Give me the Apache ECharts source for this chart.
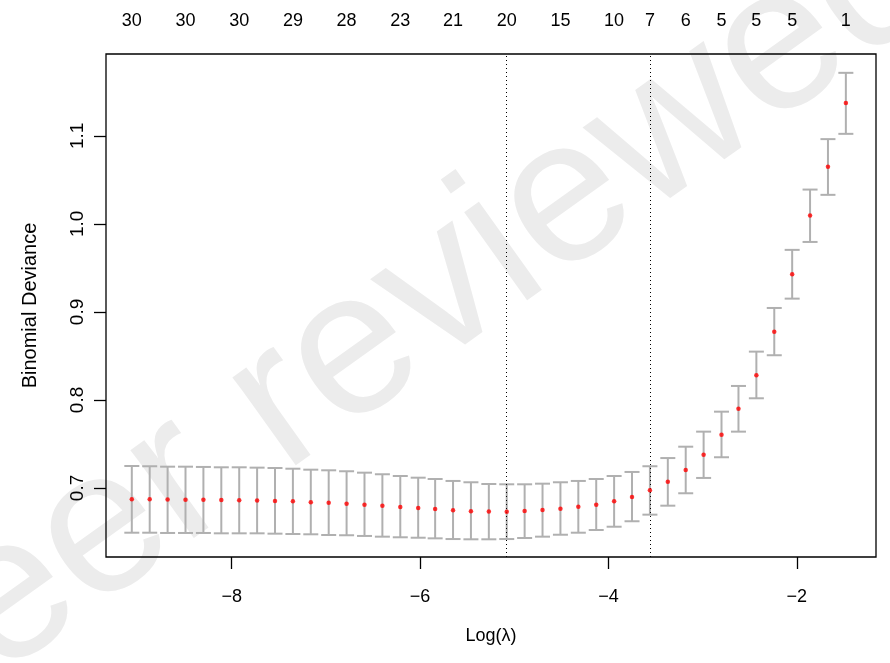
<!DOCTYPE html>
<html>
<head>
<meta charset="utf-8">
<script src="https://cdn.jsdelivr.net/npm/echarts@6/dist/echarts.min.js"></script>
<style>
  html, body { margin: 0; padding: 0; background: #fff; }
  #main { width: 890px; height: 663px; }
</style>
</head>
<body>
<div id="main"></div>
<script>
// log(lambda) of each fold-averaged point
var logLambda = [-9.06, -8.87, -8.68, -8.49, -8.30, -8.11, -7.92, -7.73, -7.54, -7.35,
  -7.16, -6.97, -6.78, -6.59, -6.40, -6.21, -6.02, -5.84, -5.65, -5.46,
  -5.27, -5.08, -4.89, -4.70, -4.51, -4.32, -4.13, -3.94, -3.75, -3.56,
  -3.37, -3.18, -2.99, -2.80, -2.62, -2.43, -2.24, -2.05, -1.86, -1.67, -1.48]
// mean binomial deviance (red dots)
var cvMean = [0.6873, 0.6872, 0.6869, 0.6867, 0.6865, 0.6863, 0.6860, 0.6857, 0.6853, 0.6849,
  0.6838, 0.6833, 0.6822, 0.6810, 0.6799, 0.6784, 0.6773, 0.6761, 0.6747, 0.6735,
  0.6733, 0.6730, 0.6739, 0.6750, 0.6765, 0.6788, 0.6810, 0.6849, 0.6898, 0.6974,
  0.7072, 0.7205, 0.7378, 0.7606, 0.7901, 0.8281, 0.8776, 0.9428, 1.0094, 1.0648, 1.1372]
// upper / lower error bar ends
var cvUpper = [0.7250, 0.7247, 0.7242, 0.7242, 0.7239, 0.7235, 0.7235, 0.7231, 0.7227, 0.7219,
  0.7208, 0.7201, 0.7190, 0.7174, 0.7156, 0.7136, 0.7117, 0.7102, 0.7080, 0.7065,
  0.7045, 0.7042, 0.7042, 0.7049, 0.7065, 0.7080, 0.7102, 0.7136, 0.7182, 0.7247,
  0.7340, 0.7469, 0.7640, 0.7867, 0.8159, 0.8549, 0.9045, 0.9705, 1.0390, 1.0963, 1.1716]
var cvLower = [0.6492, 0.6492, 0.6489, 0.6489, 0.6489, 0.6485, 0.6485, 0.6485, 0.6481, 0.6477,
  0.6474, 0.6466, 0.6463, 0.6455, 0.6447, 0.6440, 0.6435, 0.6428, 0.6420, 0.6417,
  0.6417, 0.6420, 0.6432, 0.6447, 0.6469, 0.6492, 0.6523, 0.6560, 0.6622, 0.6697,
  0.6799, 0.6940, 0.7114, 0.7349, 0.7640, 0.8019, 0.8508, 0.9151, 0.9795, 1.0330, 1.1023]
// number of nonzero coefficients shown on top, and which points they sit on
var topLabelIdx = [0, 3, 6, 9, 12, 15, 18, 21, 24, 27, 29, 31, 33, 35, 37, 40]
var topLabels = [30, 30, 30, 29, 28, 23, 21, 20, 15, 10, 7, 6, 5, 5, 5, 1]
var xTicks = [-8, -6, -4, -2]
var yTicks = [0.7, 0.8, 0.9, 1.0, 1.1]
var lambdaMinIdx = 21
var lambda1seIdx = 29

var font = 'Liberation Sans, Arial, Helvetica, sans-serif'
var chart = echarts.init(document.getElementById('main'))

var topValues = topLabelIdx.map(function (i) { return logLambda[i] })
var barData = logLambda.map(function (x, i) { return [x, cvLower[i], cvUpper[i]] })
var pointData = logLambda.map(function (x, i) { return [x, cvMean[i]] })

function minus(v) {
  return v < 0 ? '\u2212' + Math.abs(v) : String(v)
}

var option = {
  animation: false,
  backgroundColor: '#fff',
  textStyle: { fontFamily: font },
  graphic: [{
    type: 'text',
    z: -10,
    x: 395,
    y: 325,
    rotation: 0.62,
    style: {
      text: 'peer reviewed',
      font: '205px ' + font,
      fill: '#ececec',
      align: 'center',
      verticalAlign: 'middle'
    }
  }],
  grid: {
    left: 106, right: 14, top: 54, bottom: 106,
    show: true, borderColor: '#000', borderWidth: 1.3,
    backgroundColor: 'transparent'
  },
  xAxis: [{
    type: 'value',
    min: -9.334, max: -1.160,
    name: 'Log(\u03bb)',
    nameLocation: 'middle',
    nameGap: 70,
    nameTextStyle: { color: '#000', fontSize: 18, fontFamily: font },
    axisLine: { show: false },
    splitLine: { show: false },
    axisTick: { show: true, length: 12, customValues: xTicks, lineStyle: { color: '#000', width: 1.3 } },
    axisLabel: { customValues: xTicks, color: '#000', fontSize: 18, margin: 31, formatter: minus }
  }, {
    type: 'value',
    position: 'top',
    min: -9.334, max: -1.160,
    axisLine: { show: false },
    splitLine: { show: false },
    axisTick: { show: false },
    axisLabel: {
      customValues: topValues,
      color: '#000', fontSize: 18, margin: 24,
      formatter: function (v) {
        var k = topValues.findIndex(function (t) { return Math.abs(t - v) < 1e-6 })
        return k >= 0 ? String(topLabels[k]) : ''
      }
    }
  }],
  yAxis: {
    type: 'value',
    min: 0.6216, max: 1.193,
    name: 'Binomial Deviance',
    nameLocation: 'middle',
    nameGap: 66,
    nameTextStyle: { color: '#000', fontSize: 20, fontFamily: font },
    axisLine: { show: false },
    splitLine: { show: false },
    axisTick: { show: true, length: 12, customValues: yTicks, lineStyle: { color: '#000', width: 1.3 } },
    axisLabel: {
      customValues: yTicks, color: '#000', fontSize: 19, margin: 19, rotate: 90,
      formatter: function (v) { return v.toFixed(1) }
    }
  },
  series: [{
    type: 'custom',
    xAxisIndex: 0,
    data: barData,
    renderItem: function (params, api) {
      var lo = api.coord([api.value(0), api.value(1)])
      var hi = api.coord([api.value(0), api.value(2)])
      var w = 7.5
      var st = { stroke: '#b0b0b0', lineWidth: 2 }
      return {
        type: 'group',
        children: [
          { type: 'line', shape: { x1: lo[0], y1: lo[1], x2: hi[0], y2: hi[1] }, style: st },
          { type: 'line', shape: { x1: lo[0] - w, y1: lo[1], x2: lo[0] + w, y2: lo[1] }, style: st },
          { type: 'line', shape: { x1: hi[0] - w, y1: hi[1], x2: hi[0] + w, y2: hi[1] }, style: st }
        ]
      }
    },
    markLine: {
      silent: true,
      symbol: 'none',
      label: { show: false },
      lineStyle: { color: '#000', width: 1, type: [1, 3] },
      data: [{ xAxis: logLambda[lambdaMinIdx] }, { xAxis: logLambda[lambda1seIdx] }]
    }
  }, {
    type: 'scatter',
    xAxisIndex: 0,
    data: pointData,
    symbol: 'circle',
    symbolSize: 4.5,
    itemStyle: { color: '#ff0000' },
    z: 5
  }]
}

chart.setOption(option)
</script>
</body>
</html>
